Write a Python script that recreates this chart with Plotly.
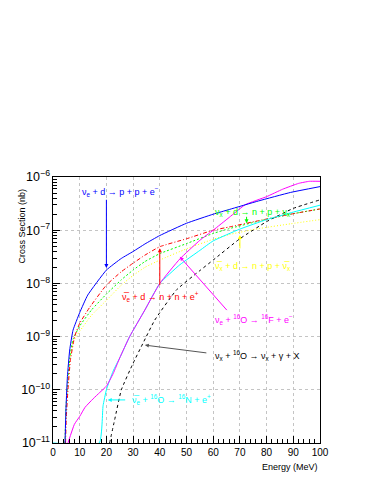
import plotly.graph_objects as go

# Energies (MeV) and cross sections (nb)
e_nue_d = [4.5, 4.9, 5.4, 6.25, 7.5, 10, 13, 20, 25.6, 30, 34.4, 40, 50, 60, 66, 77, 89, 100]
xs_nue_d = [1e-11, 5.0e-11, 1.78e-10, 5.6e-10, 1.32e-9, 2.82e-9, 6.03e-9, 1.78e-8, 2.95e-8,
            3.98e-8, 5.5e-8, 7.94e-8, 1.35e-7, 2.0e-7, 2.45e-7, 3.55e-7, 5.13e-7, 6.6e-7]

e_anue_d = [4.7, 5.0, 5.6, 6.5, 8.1, 10, 13.75, 20, 25.6, 30, 34.4, 40, 50, 60, 66, 77, 89, 100]
xs_anue_d = [1e-11, 3.16e-11, 1e-10, 3.55e-10, 1e-9, 1.78e-9, 3.55e-9, 9.3e-9, 1.66e-8,
             2.4e-8, 3.39e-8, 4.9e-8, 6.9e-8, 1.0e-7, 1.15e-7, 1.51e-7, 2.0e-7, 2.51e-7]

e_nux_d = [4.5, 4.8, 5.4, 6.3, 7.5, 10, 14.4, 20, 25.6, 30, 34.4, 40, 50, 60, 66, 77, 89, 100]
xs_nux_d = [1e-11, 3.98e-11, 1.26e-10, 3.98e-10, 8.9e-10, 1.58e-9, 3.16e-9, 6.3e-9, 1.17e-8,
            1.78e-8, 2.57e-8, 3.63e-8, 5.6e-8, 8.7e-8, 1.07e-7, 1.48e-7, 2.0e-7, 2.51e-7]

e_anux_d = [4.5, 4.8, 5.4, 6.3, 7.5, 10, 14.4, 20, 25.6, 30, 34.4, 40, 50, 60, 66, 77, 89, 100]
xs_anux_d = [1e-11, 3.55e-11, 1.12e-10, 3.55e-10, 7.94e-10, 1.26e-9, 2.51e-9, 4.79e-9, 9.3e-9,
             1.41e-8, 2.0e-8, 2.75e-8, 4.47e-8, 6.76e-8, 8.3e-8, 1.07e-7, 1.32e-7, 1.58e-7]

e_nue_o = [5.6, 8, 10, 12, 15, 17.5, 20, 22.5, 25, 28.7, 34.4, 40, 47.5, 55, 60, 66, 72, 80,
           86, 92, 96, 100]
xs_nue_o = [1e-11, 2.24e-11, 3.16e-11, 4.68e-11, 6.76e-11, 8.9e-11, 1.17e-10, 2.0e-10, 3.98e-10,
            1e-9, 3.16e-9, 1e-8, 2.88e-8, 6.46e-8, 1.0e-7, 1.74e-7, 3.02e-7, 4.27e-7, 5.89e-7,
            7.59e-7, 8.3e-7, 8.3e-7]

e_anue_o = [0, 17.3, 18.75, 20, 22.5, 25, 28.7, 34.4, 40, 47.5, 55, 60, 70, 80, 90, 100]
xs_anue_o = [1e-11, 1e-11, 5.0e-11, 1e-10, 2.24e-10, 3.98e-10, 1e-9, 3.16e-9, 1e-8, 2.24e-8,
             4.17e-8, 6.3e-8, 1.05e-7, 1.58e-7, 2.19e-7, 2.95e-7]

e_nux_o = [21.2, 23.1, 25.6, 30, 33.75, 38.1, 46.3, 55, 60, 70, 80, 90, 100]
xs_nux_o = [1e-11, 2.75e-11, 1e-10, 3.16e-10, 7.59e-10, 2.04e-9, 7.59e-9, 1.74e-8, 2.75e-8,
            6.92e-8, 1.45e-7, 2.57e-7, 3.72e-7]

FONT = "Liberation Sans, Arial, sans-serif"

curves = [
    (e_nux_o, xs_nux_o, "#000000", "3px,3px"),
    (e_anux_d, xs_anux_d, "#ffff00", "1px,2px"),
    (e_nux_d, xs_nux_d, "#00ff00", "2px,2px"),
    (e_anue_d, xs_anue_d, "#ff0000", "4px,2px,1px,2px"),
    (e_anue_o, xs_anue_o, "#00ffff", "solid"),
    (e_nue_o, xs_nue_o, "#ff00ff", "solid"),
    (e_nue_d, xs_nue_d, "#0000ff", "solid"),
]

fig = go.Figure()
for e, xs, color, dash in curves:
    fig.add_trace(go.Scatter(
        x=e, y=xs, mode="lines",
        line=dict(color=color, width=1, dash=dash, shape="spline", smoothing=0.4),
        showlegend=False,
    ))

# (text, left energy, log10 y, colour)
labels = [
    ("ν<sub>e</sub> + d → p + p + e<sup>−</sup>", 10, -6.28, "#0000ff"),
    ("ν<sub>x</sub> + d → n + p + ν<sub>x</sub>", 60, -6.66, "#00ff00"),
    ("ν̅<sub>x</sub> + d → n + p + ν̅<sub>x</sub>", 60, -7.68, "#ffff00"),
    ("ν̅<sub>e</sub> + d → n + n + e<sup>+</sup>", 25, -8.25, "#ff0000"),
    ("ν<sub>e</sub> + <sup>16</sup>O → <sup>16</sup>F + e<sup>−</sup>", 60, -8.68, "#ff00ff"),
    ("ν<sub>x</sub> + <sup>16</sup>O → ν<sub>x</sub> + γ + X", 60, -9.36, "#000000"),
    ("ν̅<sub>e</sub> + <sup>16</sup>O → <sup>16</sup>N + e<sup>+</sup>", 29, -10.19, "#00ffff"),
]
for text, x, y, color in labels:
    fig.add_annotation(x=x, y=y, text=text, showarrow=False, xanchor="left",
                       font=dict(size=9, color=color, family=FONT))

# (tail E, tail log y, head E, head log y, colour)
arrows = [
    (20, -6.40, 20, -7.71, "#0000ff"),
    (40, -8.06, 40, -7.34, "#ff0000"),
    (72.5, -6.72, 72.5, -6.87, "#00ff00"),
    (70, -7.37, 70, -7.09, "#ffff00"),
    (65.6, -8.53, 47.5, -7.50, "#ff00ff"),
    (58, -9.31, 34.4, -9.16, "#555555"),
    (27.6, -10.19, 20.5, -10.19, "#00ffff"),
]
for ax, ay, x, y, color in arrows:
    fig.add_annotation(x=x, y=y, ax=ax, ay=ay, xref="x", yref="y", axref="x", ayref="y",
                       text="", showarrow=True, arrowhead=2, arrowsize=0.8,
                       arrowwidth=1, arrowcolor=color)

fig.add_annotation(text="Cross Section (nb)", xref="paper", yref="paper", x=0, y=0.814,
                   xanchor="center", yanchor="middle", xshift=-31, textangle=-90,
                   showarrow=False, font=dict(size=9, family=FONT, color="black"))
fig.add_annotation(text="Energy (MeV)", xref="paper", yref="paper", x=1, y=0,
                   xanchor="right", yanchor="top", yshift=-17, showarrow=False,
                   font=dict(size=9, family=FONT, color="black"))

axis_common = dict(
    showline=True, linecolor="black", linewidth=1, mirror=True,
    ticks="inside", ticklen=7, tickcolor="black",
    showgrid=True, gridcolor="#c4c4c4", griddash="dot", gridwidth=1,
    zeroline=False, tickfont=dict(size=10, family=FONT, color="black"),
)
fig.update_xaxes(range=[0, 100], dtick=10, minor=dict(ticks="inside", ticklen=4, dtick=2,
                 tickcolor="black", showgrid=False), **axis_common)
fig.update_yaxes(type="log", range=[-11, -6], dtick=1, exponentformat="power",
                 minor=dict(ticks="inside", ticklen=4, tickcolor="black", showgrid=False),
                 **axis_common)

# page body has an 8px margin, so the figure is shrunk by that much
fig.update_layout(
    width=377, height=490,
    margin=dict(l=45, r=65, t=169, b=55),
    paper_bgcolor="white", plot_bgcolor="white",
    font=dict(family=FONT),
)

fig.write_html("out.html")
